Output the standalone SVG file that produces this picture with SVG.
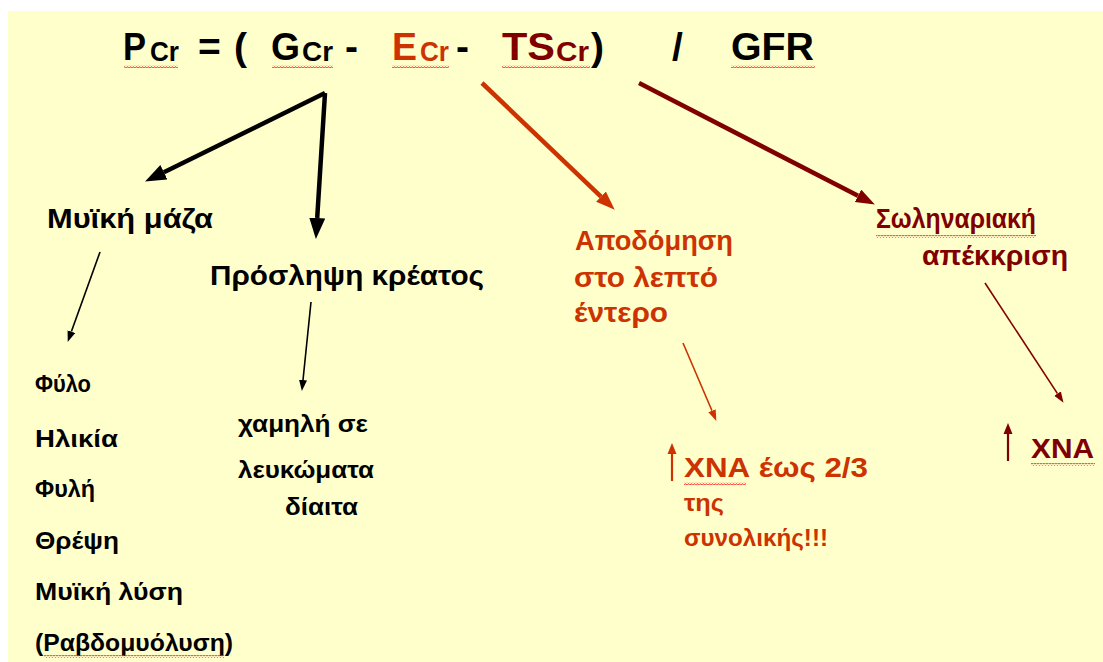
<svg xmlns="http://www.w3.org/2000/svg" width="1103" height="662" viewBox="0 0 1103 662">
<style>
.t{font-family:"Liberation Sans","DejaVu Sans",sans-serif;font-weight:bold}
.k{fill:#000}
.o{fill:#CC3300}
.m{fill:#800000}
.h{font-size:39px}
.s{font-size:28px}
.l{font-size:28px}
.n{font-size:24px}
.lk{stroke:#000;fill:none}
.lo{stroke:#CC3300;fill:none}
.lm{stroke:#800000;fill:none}
.w{stroke-width:4.5}
.thin{stroke-width:1.6}
.up{stroke-width:2.2}
</style>
<defs>
<pattern id="sq" patternUnits="userSpaceOnUse" width="3" height="3">
<path d="M0,2.4 L1.5,0.6 L3,2.4" stroke="#FF2020" stroke-width="1" fill="none"/>
</pattern>
<marker id="bk" markerUnits="userSpaceOnUse" markerWidth="22" markerHeight="18" refX="0" refY="8" orient="auto"><path d="M0,0 L21,8 L0,16 Z" fill="#000"/></marker>
<marker id="bo" markerUnits="userSpaceOnUse" markerWidth="20" markerHeight="16" refX="0" refY="7" orient="auto"><path d="M0,0 L19,7 L0,14 Z" fill="#CC3300"/></marker>
<marker id="bm" markerUnits="userSpaceOnUse" markerWidth="20" markerHeight="16" refX="0" refY="7" orient="auto"><path d="M0,0 L19,7 L0,14 Z" fill="#800000"/></marker>
<marker id="sk" markerUnits="userSpaceOnUse" markerWidth="12" markerHeight="10" refX="0" refY="4" orient="auto"><path d="M0,0 L11,4 L0,8 Z" fill="#000"/></marker>
<marker id="so" markerUnits="userSpaceOnUse" markerWidth="12" markerHeight="10" refX="0" refY="4" orient="auto"><path d="M0,0 L11,4 L0,8 Z" fill="#CC3300"/></marker>
<marker id="sm" markerUnits="userSpaceOnUse" markerWidth="12" markerHeight="10" refX="0" refY="4" orient="auto"><path d="M0,0 L11,4 L0,8 Z" fill="#800000"/></marker>
</defs>
<rect x="0" y="0" width="1103" height="662" fill="#FFFFFF"/>
<rect x="8" y="11" width="1095" height="651" fill="#FFFFCC"/>

<g id="formula">
<text class="t k h" x="123" y="60" textLength="23" lengthAdjust="spacingAndGlyphs">P</text>
<text class="t k s" x="150" y="61" textLength="29" lengthAdjust="spacingAndGlyphs">Cr</text>
<text class="t k h" x="198" y="60">=</text>
<text class="t k h" x="234" y="60">(</text>
<text class="t k h" x="271" y="60" textLength="29" lengthAdjust="spacingAndGlyphs">G</text>
<text class="t k s" x="302" y="61" textLength="31" lengthAdjust="spacingAndGlyphs">Cr</text>
<text class="t k h" x="345" y="60">-</text>
<text class="t o h" x="392" y="60" textLength="25" lengthAdjust="spacingAndGlyphs">E</text>
<text class="t o s" x="420" y="61" textLength="29" lengthAdjust="spacingAndGlyphs">Cr</text>
<text class="t k h" x="456" y="60">-</text>
<text class="t m h" x="502" y="60" textLength="53" lengthAdjust="spacingAndGlyphs">TS</text>
<text class="t m s" x="556" y="61" textLength="33" lengthAdjust="spacingAndGlyphs">Cr</text>
<text class="t k h" x="591" y="60">)</text>
<text class="t k h" x="672" y="60">/</text>
<text class="t k h" x="731" y="60" textLength="83" lengthAdjust="spacingAndGlyphs">GFR</text>
<rect x="124" y="65" width="54" height="3" fill="url(#sq)"/>
<rect x="272" y="65" width="61" height="3" fill="url(#sq)"/>
<rect x="392" y="65" width="57" height="3" fill="url(#sq)"/>
<rect x="502" y="65" width="88" height="3" fill="url(#sq)"/>
<rect x="731" y="65" width="84" height="3" fill="url(#sq)"/>
</g>

<g id="connectors">
<path class="lk w" d="M325,93 L163.9,172.2" marker-end="url(#bk)"/>
<path class="lk w" d="M325,93 L317.2,218" marker-end="url(#bk)"/>
<path class="lo w" d="M482,83 L601,196.6" marker-end="url(#bo)"/>
<path class="lm w" d="M639,83 L858,195.8" marker-end="url(#bm)"/>
<path class="lk thin" d="M100,252 L71.4,331.6" marker-end="url(#sk)"/>
<path class="lk thin" d="M311,302 L303,380" marker-end="url(#sk)"/>
<path class="lo thin" d="M683,343 L712,410.8" marker-end="url(#so)"/>
<path class="lm thin" d="M985,283 L1057.5,393.6" marker-end="url(#sm)"/>
</g>

<g id="muscle-mass">
<text class="t k l" x="47" y="228" textLength="166" lengthAdjust="spacingAndGlyphs">Μυϊκή μάζα</text>
</g>
<g id="meat-intake">
<text class="t k l" x="210" y="285" textLength="274" lengthAdjust="spacingAndGlyphs">Πρόσληψη κρέατος</text>
</g>
<g id="factors">
<text class="t k n" x="35" y="392" textLength="56" lengthAdjust="spacingAndGlyphs">Φύλο</text>
<text class="t k n" x="35" y="447" textLength="83" lengthAdjust="spacingAndGlyphs">Ηλικία</text>
<text class="t k n" x="35" y="497" textLength="60" lengthAdjust="spacingAndGlyphs">Φυλή</text>
<text class="t k n" x="35" y="549" textLength="84" lengthAdjust="spacingAndGlyphs">Θρέψη</text>
<text class="t k n" x="35" y="600" textLength="148" lengthAdjust="spacingAndGlyphs">Μυϊκή λύση</text>
<text class="t k n" x="35" y="651" textLength="198" lengthAdjust="spacingAndGlyphs">(Ραβδομυόλυση)</text>
<rect x="44" y="655" width="180" height="3" fill="url(#sq)"/>
</g>
<g id="low-protein">
<text class="t k n" x="238" y="432" textLength="130" lengthAdjust="spacingAndGlyphs">χαμηλή σε</text>
<text class="t k n" x="238" y="478" textLength="136" lengthAdjust="spacingAndGlyphs">λευκώματα</text>
<text class="t k n" x="285" y="515" textLength="73" lengthAdjust="spacingAndGlyphs">δίαιτα</text>
</g>
<g id="intestine">
<text class="t o l" x="575" y="250" textLength="158" lengthAdjust="spacingAndGlyphs">Αποδόμηση</text>
<text class="t o l" x="574" y="287" textLength="144" lengthAdjust="spacingAndGlyphs">στο λεπτό</text>
<text class="t o l" x="574" y="322" textLength="94" lengthAdjust="spacingAndGlyphs">έντερο</text>
</g>
<g id="tubular">
<text class="t m l" x="876" y="228" textLength="160" lengthAdjust="spacingAndGlyphs">Σωληναριακή</text>
<rect x="876" y="235" width="160" height="3" fill="url(#sq)"/>
<text class="t m l" x="922" y="265" textLength="146" lengthAdjust="spacingAndGlyphs">απέκκριση</text>
</g>
<g id="ckd-intestine">
<path class="lo up" d="M672,481 L672,452"/>
<path d="M667.5,454 L672,443 L676.5,454 Z" fill="#CC3300"/>
<text class="t o s" x="684" y="477" textLength="184" lengthAdjust="spacingAndGlyphs">ΧΝΑ έως 2/3</text>
<rect x="684" y="482" width="62" height="3" fill="url(#sq)"/>
<text class="t o n" x="684" y="511" textLength="40" lengthAdjust="spacingAndGlyphs">της</text>
<text class="t o n" x="684" y="546" textLength="144" lengthAdjust="spacingAndGlyphs">συνολικής!!!</text>
</g>
<g id="ckd-tubular">
<path class="lm up" d="M1008,461 L1008,432"/>
<path d="M1003.5,434 L1008,423 L1012.5,434 Z" fill="#800000"/>
<text class="t m l" x="1031" y="458" textLength="63" lengthAdjust="spacingAndGlyphs">ΧΝΑ</text>
<rect x="1031" y="463" width="64" height="3" fill="url(#sq)"/>
</g>
</svg>
